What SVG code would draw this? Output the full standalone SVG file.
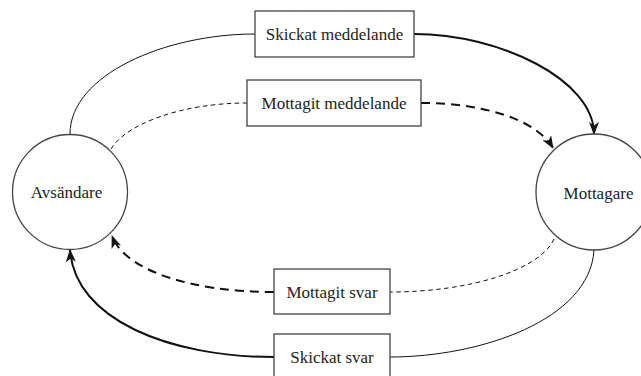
<svg xmlns="http://www.w3.org/2000/svg" width="641" height="376" viewBox="0 0 641 376">
<style>
.node{fill:#fff;stroke:#444;stroke-width:1.3}
.lbl{font-family:"Liberation Serif","Times New Roman",serif;font-size:17px;fill:#222;text-anchor:middle}
.thin{fill:none;stroke:#111;stroke-width:1}
.thick{fill:none;stroke:#111;stroke-width:2}
.dthin{stroke-dasharray:4.5 3.5}
.dthick{stroke-dasharray:9 6}
</style>
<defs>
<marker id="arr" viewBox="0 0 13 10" refX="12" refY="5" markerWidth="13" markerHeight="10" markerUnits="userSpaceOnUse" orient="auto">
<path d="M0,0 L13,5 L0,10 L3.5,5 z" fill="#111"/>
</marker>
</defs>
<rect width="641" height="376" fill="#fff"/>
<g id="connectors">
<path class="thin" d="M70,134 C70,75 165,34 255,34"/>
<path class="thick" d="M414,34 C500,34 594,80 594,134" marker-end="url(#arr)"/>
<path class="thin dthin" d="M111,149 C125,125 180,103 247,103"/>
<path class="thick dthick" d="M421,103 C480,103 535,118 553,148" marker-end="url(#arr)"/>
<path class="thin dthin" d="M554,239 C540,270 470,292 390,292"/>
<path class="thick dthick" d="M274,292 C190,292 125,270 112,236" marker-end="url(#arr)"/>
<path class="thin" d="M594,250 C590,320 480,357 390,357"/>
<path class="thick" d="M274,357 C170,357 75,320 70,250" marker-end="url(#arr)"/>
</g>
<g id="avsandare">
<circle class="node" cx="70" cy="192" r="57.5"/>
<text class="lbl" x="66.5" y="198">Avsändare</text>
</g>
<g id="mottagare">
<circle class="node" cx="594" cy="192" r="58"/>
<text class="lbl" x="598.5" y="199">Mottagare</text>
</g>
<g id="skickat-meddelande">
<rect class="node" x="255" y="11" width="159" height="46"/>
<text class="lbl" x="334.5" y="39.5">Skickat meddelande</text>
</g>
<g id="mottagit-meddelande">
<rect class="node" x="247" y="80" width="174" height="46"/>
<text class="lbl" x="334" y="109">Mottagit meddelande</text>
</g>
<g id="mottagit-svar">
<rect class="node" x="274" y="269" width="116" height="45"/>
<text class="lbl" x="332" y="298">Mottagit svar</text>
</g>
<g id="skickat-svar">
<rect class="node" x="274" y="334" width="116" height="46"/>
<text class="lbl" x="332" y="362.5">Skickat svar</text>
</g>
</svg>
